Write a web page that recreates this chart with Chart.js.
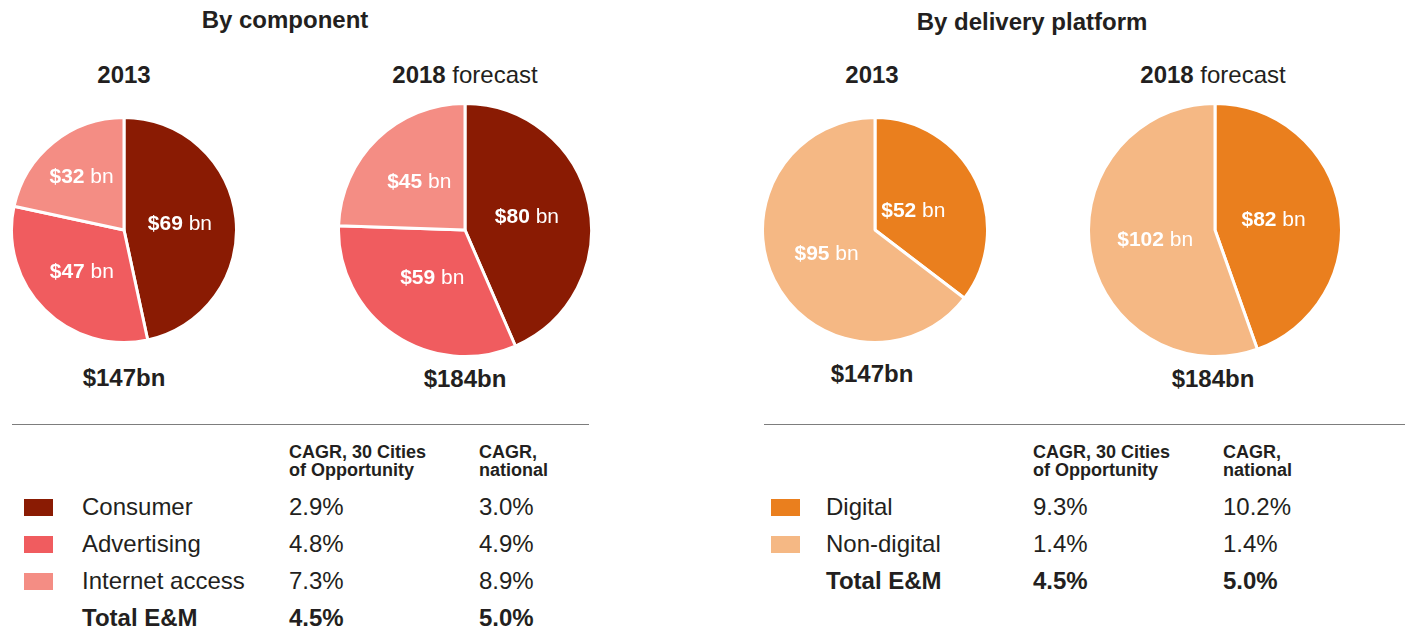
<!DOCTYPE html>
<html>
<head>
<meta charset="utf-8">
<script src="https://cdn.jsdelivr.net/npm/chart.js@4"></script>
<style>
  body { margin: 0; background: #fff; font-family: "Liberation Sans", Arial, sans-serif; color: #231f20; }
  #page { position: relative; width: 1406px; height: 637px; overflow: hidden; }
  .t { position: absolute; white-space: nowrap; line-height: 28px; }
  .c { text-align: center; }
  .b { font-weight: bold; }
  canvas { position: absolute; }
  .rule { position: absolute; height: 0; border-top: 1.5px solid #7d7d7d; }
  .sw { position: absolute; width: 29px; height: 17px; }
  .hd { position: absolute; font-weight: bold; font-size: 18px; line-height: 18px; white-space: nowrap; }
  .cell { position: absolute; font-size: 24px; line-height: 28px; white-space: nowrap; }
</style>
</head>
<body>
<div id="page">
  <div class="t c b" style="left:135px;width:300px;top:6px;font-size:24px;">By component</div>
  <div class="t c b" style="left:882px;width:300px;top:8px;font-size:24px;">By delivery platform</div>

  <div class="t c b" style="left:24px;width:200px;top:61px;font-size:24px;">2013</div>
  <div class="t c" style="left:365px;width:200px;top:61px;font-size:24px;"><b>2018</b> forecast</div>
  <div class="t c b" style="left:772px;width:200px;top:61px;font-size:24px;">2013</div>
  <div class="t c" style="left:1113px;width:200px;top:61px;font-size:24px;"><b>2018</b> forecast</div>

  <canvas id="pie1"></canvas>
  <canvas id="pie2"></canvas>
  <canvas id="pie3"></canvas>
  <canvas id="pie4"></canvas>

  <div class="t c b" id="tot1" style="left:24px;width:200px;top:364px;font-size:24px;"></div>
  <div class="t c b" id="tot2" style="left:365px;width:200px;top:365px;font-size:24px;"></div>
  <div class="t c b" id="tot3" style="left:772px;width:200px;top:360px;font-size:24px;"></div>
  <div class="t c b" id="tot4" style="left:1113px;width:200px;top:365px;font-size:24px;"></div>

  <div class="rule" style="left:12px;width:577px;top:424px;"></div>
  <div class="rule" style="left:764px;width:641px;top:424px;"></div>

  <div id="table1"></div>
  <div id="table2"></div>
</div>

<script>
// By component (US$ bn)
const componentLabels = ['Consumer', 'Advertising', 'Internet access'];
const component2013 = [69, 47, 32];
const component2018 = [80, 59, 45];
const componentColors = ['#8a1b03', '#f05c5f', '#f48d84'];
const componentCagrCities = ['2.9%', '4.8%', '7.3%'];
const componentCagrNational = ['3.0%', '4.9%', '8.9%'];

// By delivery platform (US$ bn)
const platformLabels = ['Digital', 'Non-digital'];
const platform2013 = [52, 95];
const platform2018 = [82, 102];
const platformColors = ['#ea7f1e', '#f5b884'];
const platformCagrCities = ['9.3%', '1.4%'];
const platformCagrNational = ['10.2%', '1.4%'];

const totalLabels = ['$147bn', '$184bn'];
const totalCagrCities = '4.5%';
const totalCagrNational = '5.0%';

// white "$69 bn" style labels inside each slice
const sliceLabels = {
    id: 'sliceLabels',
    afterDatasetsDraw(chart, args, opts) {
        const ctx = chart.ctx;
        const meta = chart.getDatasetMeta(0);
        const values = chart.data.datasets[0].data;
        const boldFont = 'bold 21px "Liberation Sans", Arial, sans-serif';
        const regFont = '21px "Liberation Sans", Arial, sans-serif';
        ctx.save();
        ctx.fillStyle = '#fff';
        ctx.textBaseline = 'middle';
        ctx.textAlign = 'left';
        meta.data.forEach((arc, i) => {
            const p = arc.getProps(['x', 'y', 'startAngle', 'endAngle', 'outerRadius'], true);
            const mid = (p.startAngle + p.endAngle) / 2;
            const f = (opts.factors && opts.factors[i]) || 0.5;
            const cx = p.x + Math.cos(mid) * p.outerRadius * f;
            const cy = p.y + Math.sin(mid) * p.outerRadius * f;
            const boldTxt = '$' + values[i];
            const regTxt = ' bn';
            ctx.font = boldFont;
            const w1 = ctx.measureText(boldTxt).width;
            ctx.font = regFont;
            const w2 = ctx.measureText(regTxt).width;
            const x0 = cx - (w1 + w2) / 2;
            ctx.font = boldFont;
            ctx.fillText(boldTxt, x0, cy);
            ctx.font = regFont;
            ctx.fillText(regTxt, x0 + w1, cy);
        });
        ctx.restore();
    }
};

function makePie(id, labels, values, colors, cx, cy, size, factors) {
    const el = document.getElementById(id);
    el.width = size;
    el.height = size;
    el.style.left = (cx - size / 2) + 'px';
    el.style.top = (cy - size / 2) + 'px';
    new Chart(el, {
        type: 'pie',
        data: {
            labels: labels,
            datasets: [{
                data: values,
                backgroundColor: colors,
                borderColor: '#ffffff',
                borderWidth: 3
            }]
        },
        options: {
            responsive: false,
            animation: false,
            events: [],
            layout: { padding: 0 },
            plugins: {
                legend: { display: false },
                tooltip: { enabled: false },
                sliceLabels: { factors: factors }
            }
        },
        plugins: [sliceLabels]
    });
}

makePie('pie1', componentLabels, component2013, componentColors, 124, 230, 228, [0.5, 0.53, 0.6]);
makePie('pie2', componentLabels, component2018, componentColors, 465, 230, 256, [0.5, 0.46, 0.52]);
makePie('pie3', platformLabels, platform2013, platformColors, 875, 230, 228, [0.38, 0.48]);
makePie('pie4', platformLabels, platform2018, platformColors, 1215, 230, 256, [0.47, 0.48]);

document.getElementById('tot1').textContent = totalLabels[0];
document.getElementById('tot2').textContent = totalLabels[1];
document.getElementById('tot3').textContent = totalLabels[0];
document.getElementById('tot4').textContent = totalLabels[1];

function buildTable(hostId, x0, cols, labels, colors, cities, national) {
    const host = document.getElementById(hostId);
    const colLabel = x0 + cols[0], colCities = x0 + cols[1], colNat = x0 + cols[2];
    let html = '';
    html += `<div class="hd" style="left:${colCities}px;top:443px;">CAGR, 30 Cities<br>of Opportunity</div>`;
    html += `<div class="hd" style="left:${colNat}px;top:443px;">CAGR,<br>national</div>`;
    const rowY = [493, 530, 567, 604];
    labels.forEach((lab, i) => {
        const y = rowY[i];
        html += `<div class="sw" style="left:${x0}px;top:${y + 6}px;background:${colors[i]};"></div>`;
        html += `<div class="cell" style="left:${colLabel}px;top:${y}px;">${lab}</div>`;
        html += `<div class="cell" style="left:${colCities}px;top:${y}px;">${cities[i]}</div>`;
        html += `<div class="cell" style="left:${colNat}px;top:${y}px;">${national[i]}</div>`;
    });
    const y = rowY[labels.length];
    html += `<div class="cell b" style="left:${colLabel}px;top:${y}px;">Total E&amp;M</div>`;
    html += `<div class="cell b" style="left:${colCities}px;top:${y}px;">${totalCagrCities}</div>`;
    html += `<div class="cell b" style="left:${colNat}px;top:${y}px;">${totalCagrNational}</div>`;
    host.innerHTML = html;
}

buildTable('table1', 24, [58, 265, 455], componentLabels, componentColors, componentCagrCities, componentCagrNational);
buildTable('table2', 771, [55, 262, 452], platformLabels, platformColors, platformCagrCities, platformCagrNational);
</script>
</body>
</html>
